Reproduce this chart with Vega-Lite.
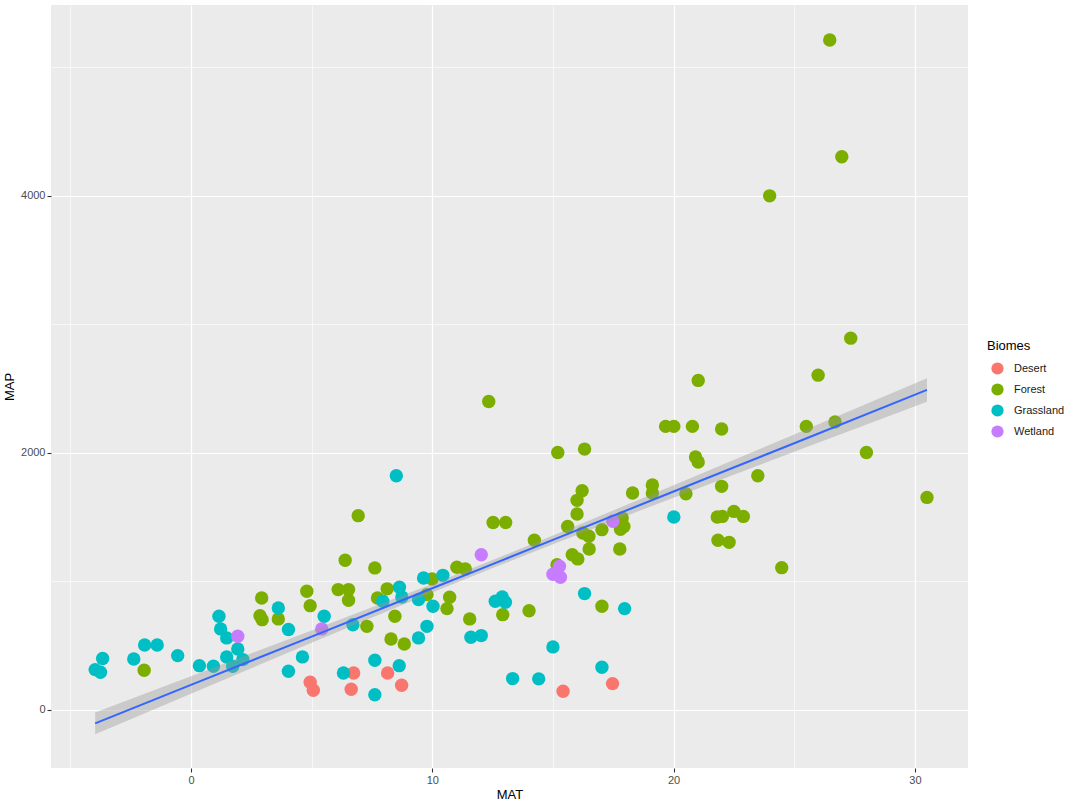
{
  "$schema": "https://vega.github.io/schema/vega-lite/v6.json",
  "width": 917,
  "height": 763,
  "autosize": "none",
  "padding": {"left": 51, "top": 5, "right": 112, "bottom": 42},
  "background": "#FFFFFF",
  "datasets": {
    "pts": [
      {"MAT": 4.94, "MAP": 213, "Biomes": "Desert"},
      {"MAT": 5.07, "MAP": 150, "Biomes": "Desert"},
      {"MAT": 6.74, "MAP": 285, "Biomes": "Desert"},
      {"MAT": 6.64, "MAP": 158, "Biomes": "Desert"},
      {"MAT": 8.15, "MAP": 285, "Biomes": "Desert"},
      {"MAT": 8.73, "MAP": 189, "Biomes": "Desert"},
      {"MAT": 15.42, "MAP": 142, "Biomes": "Desert"},
      {"MAT": 17.47, "MAP": 202, "Biomes": "Desert"},
      {"MAT": 6.39, "MAP": 1162, "Biomes": "Forest"},
      {"MAT": 6.1, "MAP": 934, "Biomes": "Forest"},
      {"MAT": 6.53, "MAP": 934, "Biomes": "Forest"},
      {"MAT": 6.53, "MAP": 851, "Biomes": "Forest"},
      {"MAT": 4.8, "MAP": 921, "Biomes": "Forest"},
      {"MAT": 4.94, "MAP": 809, "Biomes": "Forest"},
      {"MAT": 2.93, "MAP": 869, "Biomes": "Forest"},
      {"MAT": 2.86, "MAP": 731, "Biomes": "Forest"},
      {"MAT": 2.95, "MAP": 700, "Biomes": "Forest"},
      {"MAT": 3.62, "MAP": 706, "Biomes": "Forest"},
      {"MAT": -1.94, "MAP": 306, "Biomes": "Forest"},
      {"MAT": 7.62, "MAP": 1103, "Biomes": "Forest"},
      {"MAT": 7.29, "MAP": 648, "Biomes": "Forest"},
      {"MAT": 7.73, "MAP": 869, "Biomes": "Forest"},
      {"MAT": 8.13, "MAP": 940, "Biomes": "Forest"},
      {"MAT": 8.45, "MAP": 726, "Biomes": "Forest"},
      {"MAT": 8.29, "MAP": 550, "Biomes": "Forest"},
      {"MAT": 8.84, "MAP": 511, "Biomes": "Forest"},
      {"MAT": 9.99, "MAP": 1017, "Biomes": "Forest"},
      {"MAT": 9.78, "MAP": 895, "Biomes": "Forest"},
      {"MAT": 10.72, "MAP": 874, "Biomes": "Forest"},
      {"MAT": 10.61, "MAP": 786, "Biomes": "Forest"},
      {"MAT": 11.02, "MAP": 1108, "Biomes": "Forest"},
      {"MAT": 11.37, "MAP": 1095, "Biomes": "Forest"},
      {"MAT": 11.55, "MAP": 706, "Biomes": "Forest"},
      {"MAT": 12.92, "MAP": 739, "Biomes": "Forest"},
      {"MAT": 14.01, "MAP": 770, "Biomes": "Forest"},
      {"MAT": 14.23, "MAP": 1318, "Biomes": "Forest"},
      {"MAT": 17.03, "MAP": 804, "Biomes": "Forest"},
      {"MAT": 17.77, "MAP": 1250, "Biomes": "Forest"},
      {"MAT": 16.5, "MAP": 1250, "Biomes": "Forest"},
      {"MAT": 15.8, "MAP": 1206, "Biomes": "Forest"},
      {"MAT": 16.03, "MAP": 1173, "Biomes": "Forest"},
      {"MAT": 15.17, "MAP": 1128, "Biomes": "Forest"},
      {"MAT": 12.34, "MAP": 2399, "Biomes": "Forest"},
      {"MAT": 15.2, "MAP": 2002, "Biomes": "Forest"},
      {"MAT": 16.31, "MAP": 2028, "Biomes": "Forest"},
      {"MAT": 16.21, "MAP": 1704, "Biomes": "Forest"},
      {"MAT": 16.0, "MAP": 1629, "Biomes": "Forest"},
      {"MAT": 16.0, "MAP": 1523, "Biomes": "Forest"},
      {"MAT": 18.3, "MAP": 1686, "Biomes": "Forest"},
      {"MAT": 19.12, "MAP": 1748, "Biomes": "Forest"},
      {"MAT": 19.12, "MAP": 1686, "Biomes": "Forest"},
      {"MAT": 20.51, "MAP": 1680, "Biomes": "Forest"},
      {"MAT": 19.67, "MAP": 2205, "Biomes": "Forest"},
      {"MAT": 20.01, "MAP": 2205, "Biomes": "Forest"},
      {"MAT": 20.78, "MAP": 2205, "Biomes": "Forest"},
      {"MAT": 20.91, "MAP": 1967, "Biomes": "Forest"},
      {"MAT": 21.02, "MAP": 1928, "Biomes": "Forest"},
      {"MAT": 12.52, "MAP": 1457, "Biomes": "Forest"},
      {"MAT": 13.04, "MAP": 1457, "Biomes": "Forest"},
      {"MAT": 15.61, "MAP": 1426, "Biomes": "Forest"},
      {"MAT": 16.24, "MAP": 1375, "Biomes": "Forest"},
      {"MAT": 16.49, "MAP": 1349, "Biomes": "Forest"},
      {"MAT": 17.03, "MAP": 1401, "Biomes": "Forest"},
      {"MAT": 17.87, "MAP": 1492, "Biomes": "Forest"},
      {"MAT": 17.94, "MAP": 1426, "Biomes": "Forest"},
      {"MAT": 17.8, "MAP": 1404, "Biomes": "Forest"},
      {"MAT": 27.34, "MAP": 2892, "Biomes": "Forest"},
      {"MAT": 25.99, "MAP": 2604, "Biomes": "Forest"},
      {"MAT": 21.02, "MAP": 2563, "Biomes": "Forest"},
      {"MAT": 21.99, "MAP": 2184, "Biomes": "Forest"},
      {"MAT": 25.5, "MAP": 2205, "Biomes": "Forest"},
      {"MAT": 26.69, "MAP": 2239, "Biomes": "Forest"},
      {"MAT": 27.99, "MAP": 2002, "Biomes": "Forest"},
      {"MAT": 30.5, "MAP": 1652, "Biomes": "Forest"},
      {"MAT": 23.49, "MAP": 1821, "Biomes": "Forest"},
      {"MAT": 21.99, "MAP": 1738, "Biomes": "Forest"},
      {"MAT": 21.81, "MAP": 1499, "Biomes": "Forest"},
      {"MAT": 22.02, "MAP": 1504, "Biomes": "Forest"},
      {"MAT": 22.5, "MAP": 1543, "Biomes": "Forest"},
      {"MAT": 22.89, "MAP": 1504, "Biomes": "Forest"},
      {"MAT": 21.84, "MAP": 1318, "Biomes": "Forest"},
      {"MAT": 22.3, "MAP": 1302, "Biomes": "Forest"},
      {"MAT": 24.48, "MAP": 1105, "Biomes": "Forest"},
      {"MAT": 26.47, "MAP": 5214, "Biomes": "Forest"},
      {"MAT": 26.97, "MAP": 4304, "Biomes": "Forest"},
      {"MAT": 23.98, "MAP": 4000, "Biomes": "Forest"},
      {"MAT": 6.93, "MAP": 1510, "Biomes": "Forest"},
      {"MAT": -3.97, "MAP": 311, "Biomes": "Grassland"},
      {"MAT": -3.75, "MAP": 290, "Biomes": "Grassland"},
      {"MAT": -3.66, "MAP": 397, "Biomes": "Grassland"},
      {"MAT": -2.37, "MAP": 394, "Biomes": "Grassland"},
      {"MAT": -1.92, "MAP": 503, "Biomes": "Grassland"},
      {"MAT": -1.4, "MAP": 503, "Biomes": "Grassland"},
      {"MAT": -0.55, "MAP": 420, "Biomes": "Grassland"},
      {"MAT": 0.35, "MAP": 342, "Biomes": "Grassland"},
      {"MAT": 0.93, "MAP": 337, "Biomes": "Grassland"},
      {"MAT": 1.16, "MAP": 726, "Biomes": "Grassland"},
      {"MAT": 1.23, "MAP": 628, "Biomes": "Grassland"},
      {"MAT": 1.48, "MAP": 558, "Biomes": "Grassland"},
      {"MAT": 1.94, "MAP": 472, "Biomes": "Grassland"},
      {"MAT": 1.48, "MAP": 410, "Biomes": "Grassland"},
      {"MAT": 2.15, "MAP": 389, "Biomes": "Grassland"},
      {"MAT": 1.73, "MAP": 337, "Biomes": "Grassland"},
      {"MAT": 3.62, "MAP": 791, "Biomes": "Grassland"},
      {"MAT": 4.04, "MAP": 623, "Biomes": "Grassland"},
      {"MAT": 5.52, "MAP": 726, "Biomes": "Grassland"},
      {"MAT": 4.62, "MAP": 410, "Biomes": "Grassland"},
      {"MAT": 4.04, "MAP": 298, "Biomes": "Grassland"},
      {"MAT": 6.32, "MAP": 285, "Biomes": "Grassland"},
      {"MAT": 6.71, "MAP": 661, "Biomes": "Grassland"},
      {"MAT": 7.95, "MAP": 843, "Biomes": "Grassland"},
      {"MAT": 8.64, "MAP": 952, "Biomes": "Grassland"},
      {"MAT": 8.74, "MAP": 877, "Biomes": "Grassland"},
      {"MAT": 9.43, "MAP": 558, "Biomes": "Grassland"},
      {"MAT": 9.78, "MAP": 648, "Biomes": "Grassland"},
      {"MAT": 10.03, "MAP": 804, "Biomes": "Grassland"},
      {"MAT": 9.64, "MAP": 1025, "Biomes": "Grassland"},
      {"MAT": 10.44, "MAP": 1045, "Biomes": "Grassland"},
      {"MAT": 9.43, "MAP": 856, "Biomes": "Grassland"},
      {"MAT": 11.6, "MAP": 563, "Biomes": "Grassland"},
      {"MAT": 12.03, "MAP": 576, "Biomes": "Grassland"},
      {"MAT": 12.61, "MAP": 843, "Biomes": "Grassland"},
      {"MAT": 12.9, "MAP": 877, "Biomes": "Grassland"},
      {"MAT": 13.03, "MAP": 835, "Biomes": "Grassland"},
      {"MAT": 15.0, "MAP": 488, "Biomes": "Grassland"},
      {"MAT": 13.33, "MAP": 241, "Biomes": "Grassland"},
      {"MAT": 14.41, "MAP": 239, "Biomes": "Grassland"},
      {"MAT": 16.31, "MAP": 903, "Biomes": "Grassland"},
      {"MAT": 17.97, "MAP": 786, "Biomes": "Grassland"},
      {"MAT": 17.03, "MAP": 329, "Biomes": "Grassland"},
      {"MAT": 20.01, "MAP": 1499, "Biomes": "Grassland"},
      {"MAT": 7.62, "MAP": 384, "Biomes": "Grassland"},
      {"MAT": 7.62, "MAP": 115, "Biomes": "Grassland"},
      {"MAT": 8.63, "MAP": 342, "Biomes": "Grassland"},
      {"MAT": 8.51, "MAP": 1821, "Biomes": "Grassland"},
      {"MAT": 1.94, "MAP": 571, "Biomes": "Wetland"},
      {"MAT": 5.42, "MAP": 628, "Biomes": "Wetland"},
      {"MAT": 12.03, "MAP": 1206, "Biomes": "Wetland"},
      {"MAT": 15.0, "MAP": 1053, "Biomes": "Wetland"},
      {"MAT": 15.27, "MAP": 1115, "Biomes": "Wetland"},
      {"MAT": 15.31, "MAP": 1030, "Biomes": "Wetland"},
      {"MAT": 17.48, "MAP": 1466, "Biomes": "Wetland"}
    ],
    "fit": [
      {"MAT": -3.97, "fit": -107, "lo": -192, "hi": -22},
      {"MAT": 0, "fit": 192, "lo": 124, "hi": 260},
      {"MAT": 5, "fit": 568, "lo": 521, "hi": 616},
      {"MAT": 10, "fit": 945, "lo": 912, "hi": 978},
      {"MAT": 12.5, "fit": 1133, "lo": 1102, "hi": 1164},
      {"MAT": 15, "fit": 1321, "lo": 1288, "hi": 1355},
      {"MAT": 20, "fit": 1698, "lo": 1650, "hi": 1746},
      {"MAT": 25, "fit": 2074, "lo": 2007, "hi": 2142},
      {"MAT": 30.5, "fit": 2489, "lo": 2397, "hi": 2580}
    ]
  },
  "layer": [
    {
      "data": {"name": "pts"},
      "mark": {"type": "circle", "size": 180, "opacity": 1},
      "encoding": {
        "x": {"field": "MAT", "type": "quantitative",
          "scale": {"domain": [-5.8, 32.2], "nice": false, "zero": false},
          "axis": {"title": "MAT", "values": [-5, 0, 5, 10, 15, 20, 25, 30],
            "labelExpr": "datum.value % 10 === 0 ? datum.label : ''",
            "gridWidth": {"condition": {"test": "datum.value % 10 === 0", "value": 1.2}, "value": 0.6},
            "tickOpacity": {"condition": {"test": "datum.value % 10 === 0", "value": 1}, "value": 0},
            "titlePadding": 3}},
        "y": {"field": "MAP", "type": "quantitative",
          "scale": {"domain": [-455, 5486], "nice": false, "zero": false},
          "axis": {"title": "MAP", "values": [0, 1000, 2000, 3000, 4000, 5000],
            "labelExpr": "datum.value % 2000 === 0 ? datum.label : ''",
            "format": "d",
            "gridWidth": {"condition": {"test": "datum.value % 2000 === 0", "value": 1.2}, "value": 0.6},
            "tickOpacity": {"condition": {"test": "datum.value % 2000 === 0", "value": 1}, "value": 0},
            "titlePadding": 4}},
        "color": {"field": "Biomes", "type": "nominal",
          "scale": {"domain": ["Desert", "Forest", "Grassland", "Wetland"],
            "range": ["#F8766D", "#7CAE00", "#00BFC4", "#C77CFF"]},
          "legend": {"title": "Biomes", "orient": "none", "legendX": 936, "legendY": 335,
            "symbolType": "circle", "symbolSize": 150, "symbolOffset": 4, "labelOffset": 10,
            "titlePadding": 9, "rowPadding": 8, "labelFontSize": 11, "titleFontSize": 13,
            "titleFontWeight": "normal", "titleColor": "#000000", "labelColor": "#1A1A1A",
            "symbolStrokeWidth": 0, "symbolOpacity": 1}}
      }
    },
    {
      "data": {"name": "fit"},
      "mark": {"type": "area", "color": "#999999", "opacity": 0.4},
      "encoding": {
        "x": {"field": "MAT", "type": "quantitative",
          "scale": {"domain": [-5.8, 32.2], "nice": false, "zero": false}},
        "y": {"field": "lo", "type": "quantitative",
          "scale": {"domain": [-455, 5486], "nice": false, "zero": false}},
        "y2": {"field": "hi"}
      }
    },
    {
      "data": {"name": "fit"},
      "mark": {"type": "line", "color": "#3366FF", "strokeWidth": 2},
      "encoding": {
        "x": {"field": "MAT", "type": "quantitative",
          "scale": {"domain": [-5.8, 32.2], "nice": false, "zero": false}},
        "y": {"field": "fit", "type": "quantitative",
          "scale": {"domain": [-455, 5486], "nice": false, "zero": false}}
      }
    }
  ],
  "config": {
    "font": "Liberation Sans",
    "view": {"fill": "#EBEBEB", "stroke": null},
    "axis": {"domain": false, "grid": true, "gridColor": "#FFFFFF", "tickColor": "#333333",
      "tickSize": 4, "tickWidth": 1.1, "labelColor": "#4D4D4D", "labelFontSize": 11,
      "labelPadding": 2, "titleFontSize": 13, "titleFontWeight": "normal", "titleColor": "#000000"}
  }
}
